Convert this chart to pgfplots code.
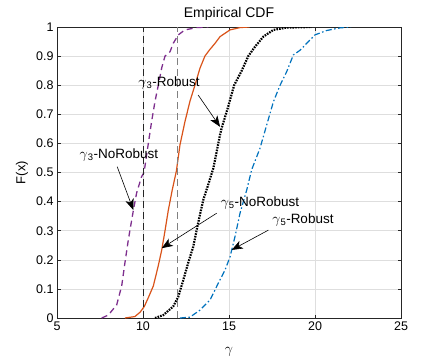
\documentclass[border=0pt]{standalone}
\usepackage{fontspec}
\setmainfont{Liberation Sans}
\usepackage{pgfplots}
\pgfplotsset{compat=1.18}
\usetikzlibrary{arrows.meta}
\definecolor{mpurple}{rgb}{0.494,0.184,0.556}
\definecolor{morange}{rgb}{0.850,0.325,0.098}
\definecolor{mblue}{rgb}{0,0.447,0.741}
\definecolor{axc}{rgb}{0.15,0.15,0.15}
\definecolor{gridc}{rgb}{0.87,0.87,0.87}
\begin{document}
\begin{tikzpicture}
\begin{axis}[
  scale only axis, width=344pt, height=291pt,
  xmin=5, xmax=25, ymin=0, ymax=1,
  xtick={5,10,15,20,25},
  ytick={0,0.1,0.2,0.3,0.4,0.5,0.6,0.7,0.8,0.9,1},
  yticklabels={0,0.1,0.2,0.3,0.4,0.5,0.6,0.7,0.8,0.9,1},
  grid=major, major grid style={color=gridc, line width=0.5pt},
  axis line style={color=axc, line width=0.6pt},
  tick style={color=axc, line width=0.6pt}, tick align=inside, major tick length=3.5pt,
  ticklabel style={font=\fontsize{12.5}{14}\selectfont, color=black},
  /pgf/number format/assume math mode=true,
  title={Empirical CDF},
  title style={font=\fontsize{14}{16}\selectfont, at={(axis description cs:0.5,1)}, anchor=base, yshift=4pt},
  xlabel={$\gamma$},
  xlabel style={font=\fontsize{15}{17}\selectfont, at={(axis description cs:0.5,-0.117)}, anchor=center},
  ylabel={F(x)},
  ylabel style={font=\fontsize{13}{15}\selectfont, at={(axis description cs:-0.102,0.5)}, anchor=center},
]
% gamma3 NoRobust (purple dashed)
\addplot[mpurple, line width=1.3pt, dash pattern=on 6pt off 4pt] coordinates {
(7.6,0) (7.98,0.01) (8.47,0.045) (8.76,0.11) (8.95,0.19) (9.15,0.27) (9.44,0.37) (9.63,0.43) (9.92,0.486) (10.06,0.5) (10.31,0.6) (10.5,0.675) (10.7,0.745) (10.89,0.80) (11.09,0.86) (11.28,0.90) (11.57,0.915) (11.76,0.944) (12.05,0.973) (12.44,0.99) (13.12,0.998) (13.8,1)
};
% gamma3 Robust (orange solid)
\addplot[morange, line width=1.2pt] coordinates {
(8.95,0) (9.53,0.005) (9.83,0.02) (10.08,0.04) (10.31,0.07) (10.6,0.11) (10.89,0.18) (11.09,0.234) (11.28,0.30) (11.47,0.37) (11.7,0.44) (11.94,0.505) (12.15,0.595) (12.44,0.675) (12.73,0.745) (13.02,0.80) (13.31,0.858) (13.6,0.90) (13.85,0.92) (14.19,0.944) (14.48,0.967) (15.06,0.99) (15.64,0.998) (16.2,1)
};
% gamma5 NoRobust (black dotted)
\addplot[black, line width=2.2pt, dash pattern=on 1.6pt off 1.1pt] coordinates {
(10.7,0) (11.18,0.01) (11.76,0.04) (12.05,0.073) (12.34,0.13) (12.63,0.19) (12.92,0.245) (13.2,0.325) (13.5,0.405) (13.8,0.46) (14.09,0.515) (14.48,0.63) (14.57,0.652) (14.92,0.72) (15.3,0.80) (15.74,0.85) (16.12,0.90) (16.51,0.932) (17.0,0.967) (17.58,0.99) (18.35,0.998) (19.8,1)
};
% gamma5 Robust (blue dash-dot)
\addplot[mblue, line width=1.2pt, dash pattern=on 6pt off 2.5pt on 1.5pt off 2.5pt] coordinates {
(12.15,0) (12.73,0.003) (13.31,0.027) (13.9,0.062) (14.38,0.12) (14.77,0.165) (15.06,0.21) (15.35,0.28) (15.64,0.36) (16.03,0.44) (16.32,0.51) (16.8,0.583) (17.19,0.663) (17.58,0.743) (17.97,0.80) (18.35,0.846) (18.74,0.904) (19.13,0.92) (19.52,0.944) (20.0,0.973) (20.68,0.988) (21.45,0.997) (22.1,1)
};
% thresholds
\addplot[black!85, line width=0.8pt, dash pattern=on 7pt off 4pt] coordinates {(10,0) (10,1)};
\addplot[black!50, line width=1.0pt, dash pattern=on 7pt off 4pt] coordinates {(12,0) (12,1)};
% annotations
\tikzset{ann/.style={font=\fontsize{13.5}{15}\selectfont, inner sep=0pt},
         arr/.style={black, line width=0.6pt, -{Stealth[length=11pt, width=8.5pt, inset=3pt]}}}
\node[ann] at (axis cs:11.51,0.808) {$\gamma$\textsubscript{3}-Robust};
\draw[arr] (axis cs:13.21,0.766) -- (axis cs:14.48,0.657);
\node[ann] at (axis cs:8.6,0.56) {$\gamma$\textsubscript{3}-NoRobust};
\draw[arr] (axis cs:8.5,0.52) -- (axis cs:9.44,0.371);
\node[ann] at (axis cs:16.8,0.395) {$\gamma$\textsubscript{5}-NoRobust};
\draw[arr] (axis cs:14.28,0.36) -- (axis cs:11.09,0.24);
\node[ann] at (axis cs:19.3,0.337) {$\gamma$\textsubscript{5}-Robust};
\draw[arr] (axis cs:17.29,0.302) -- (axis cs:15.16,0.234);
\end{axis}
\pgfresetboundingbox
\path (-57pt,-42pt) rectangle (386pt,318pt);
\end{tikzpicture}
\end{document}
